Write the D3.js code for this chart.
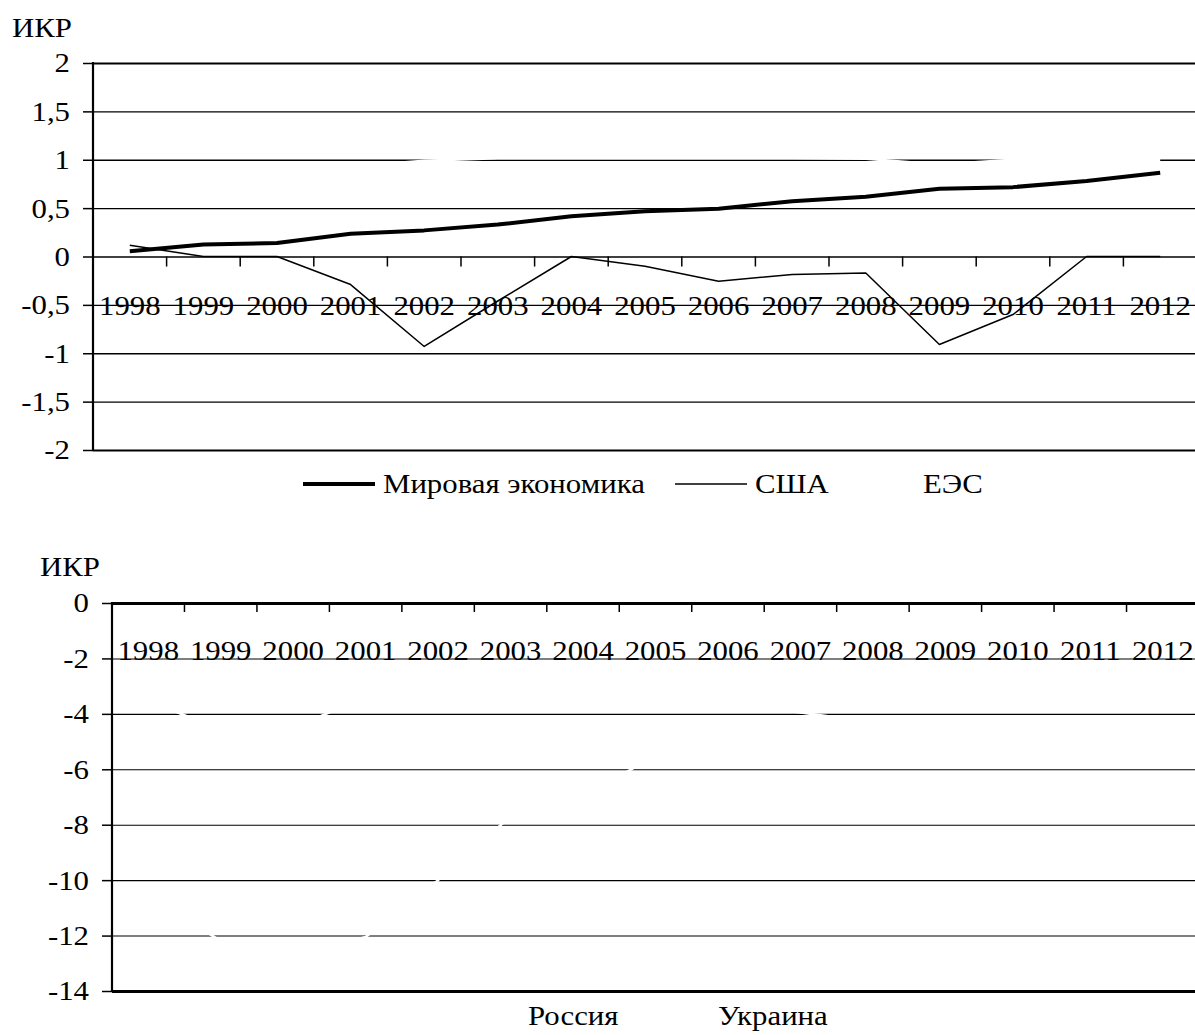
<!DOCTYPE html>
<html>
<head>
<meta charset="utf-8">
<script src="https://cdn.jsdelivr.net/npm/d3@7"></script>
<style>
  body { margin: 0; background: #fff; }
  svg { display: block; }
  svg text { font-family: "Liberation Serif", "Times New Roman", serif !important; font-size: 28px !important; fill: #000; }
</style>
</head>
<body>
<svg id="chart" width="1195" height="1035"></svg>
<script>
// categories
var years = ["1998","1999","2000","2001","2002","2003","2004","2005","2006","2007","2008","2009","2010","2011","2012"];

// top panel series
var world = [0.055, 0.124, 0.14, 0.235, 0.27, 0.33, 0.417, 0.468, 0.493, 0.572, 0.617, 0.70, 0.717, 0.78, 0.865];
var usa   = [0.117, 0, 0, -0.29, -0.93, -0.46, 0, -0.10, -0.255, -0.186, -0.17, -0.91, -0.6, 0, 0];
var ees   = [0.85, 0.88, 0.9, 0.93, 0.99, 1.015, 1.015, 1.015, 1.015, 1.015, 1.01, 0.95, 1.0, 1.0, 1.0];
var topTicks = [-2, -1.5, -1, -0.5, 0, 0.5, 1, 1.5, 2];

// bottom panel series
var russia  = [-3.5, -4.6, -4.5, -3.4, -3.2, -3, -2.8, -3, -3.6, -3.95, -4.3, -4.6, -4.8, -5, -5];
var ukraine = [-10.5, -12.2, -12.8, -12.05, -10, -7.7, -7, -5.5, -5.3, -5.2, -5.2, -5.3, -5.2, -5.1, -5];
var bottomTicks = [-14, -12, -10, -8, -6, -4, -2, 0];

var W = 1195;
var STRETCH = 1.1; // glyphs in the source look slightly wide
var svg = d3.select("#chart");
var loc = d3.formatLocale({decimal: ",", thousands: " ", grouping: [3], currency: ["", ""], minus: "-"});
var fmt = function(d) { return loc.format("")(d); };

function panel(opt) {
  var x = d3.scaleBand().domain(years).range([opt.left, opt.right]).paddingInner(0).paddingOuter(0);
  var y = d3.scaleLinear().domain(opt.domain).range([opt.bottom, opt.top]);
  var g = svg.append("g");

  // gridlines
  g.append("g")
    .attr("transform", "translate(" + opt.left + ",0)")
    .call(d3.axisLeft(y).tickValues(opt.ticks).tickSize(-(W - opt.left)).tickFormat(""))
    .call(function(s) {
      s.select(".domain").remove();
      s.selectAll(".tick line").attr("stroke", "#000")
        .attr("stroke-width", function(d) { return (d === opt.domain[0] || d === opt.domain[1]) ? opt.borderW : opt.gridW; });
    });

  // y tick marks + labels
  g.append("g")
    .attr("transform", "translate(" + opt.left + ",0)")
    .call(d3.axisLeft(y).tickValues(opt.ticks).tickSize(10).tickPadding(13).tickFormat(fmt))
    .call(function(s) {
      s.select(".domain").remove();
      s.selectAll(".tick line").attr("stroke", "#000").attr("stroke-width", 1.5);
      s.selectAll("text").attr("fill", "#000");
    });

  // y axis line
  g.append("line")
    .attr("x1", opt.left).attr("x2", opt.left)
    .attr("y1", y(opt.domain[1]) - 1).attr("y2", y(opt.domain[0]) + 1)
    .attr("stroke", "#000").attr("stroke-width", 2.2);

  // category tick marks at band boundaries on the zero line
  g.selectAll(".ctick").data(years.slice(1)).enter().append("line")
    .attr("x1", function(d) { return x(d); }).attr("x2", function(d) { return x(d); })
    .attr("y1", y(opt.tickAt)).attr("y2", y(opt.tickAt) + opt.tickLen)
    .attr("stroke", "#000").attr("stroke-width", 1.5);

  // year labels
  g.append("g")
    .attr("transform", "translate(0," + y(opt.tickAt) + ")")
    .call(d3.axisBottom(x).tickSize(0).tickPadding(opt.labelPad))
    .call(function(s) {
      s.select(".domain").remove();
      s.selectAll("text").attr("fill", "#000");
    });

  // axis title
  svg.append("text").attr("x", opt.titleX).attr("y", opt.titleY).text("ИКР");

  var line = d3.line()
    .x(function(d, i) { return x(years[i]) + x.bandwidth() / 2; })
    .y(function(d) { return y(d); });

  opt.series.forEach(function(s) {
    g.append("path").datum(s.values)
      .attr("d", line)
      .attr("fill", "none")
      .attr("stroke", s.color)
      .attr("stroke-width", s.width)
      .attr("stroke-linejoin", "round");
  });

  // legend
  opt.series.forEach(function(s) {
    g.append("line")
      .attr("x1", s.lx).attr("x2", s.lx + 72)
      .attr("y1", opt.legendY - 9).attr("y2", opt.legendY - 9)
      .attr("stroke", s.color).attr("stroke-width", s.width);
    g.append("text").attr("x", s.lx + 80).attr("y", opt.legendY).text(s.name);
  });
}

panel({
  left: 93, right: 1197, top: 63, bottom: 450,
  domain: [-2, 2], ticks: topTicks, tickAt: 0, tickLen: 10, labelPad: 39,
  gridW: 1.3, borderW: 2,
  titleX: 12, titleY: 37, legendY: 493,
  series: [
    {name: "ЕЭС", values: ees, color: "#fff", width: 2.5, lx: 843},
    {name: "Мировая экономика", values: world, color: "#000", width: 4, lx: 303},
    {name: "США", values: usa, color: "#000", width: 1.5, lx: 675}
  ]
});

panel({
  left: 112, right: 1199, top: 603, bottom: 991,
  domain: [-14, 0], ticks: bottomTicks, tickAt: 0, tickLen: 9, labelPad: 37,
  gridW: 1.1, borderW: 3,
  titleX: 40, titleY: 576, legendY: 1025,
  series: [
    {name: "Россия", values: russia, color: "#fff", width: 2.5, lx: 448},
    {name: "Украина", values: ukraine, color: "#fff", width: 2.5, lx: 638}
  ]
});

// widen glyphs a little to match the source
svg.selectAll("text").each(function() {
  var len = this.getComputedTextLength();
  d3.select(this).attr("textLength", len * STRETCH).attr("lengthAdjust", "spacingAndGlyphs");
});
</script>
</body>
</html>
